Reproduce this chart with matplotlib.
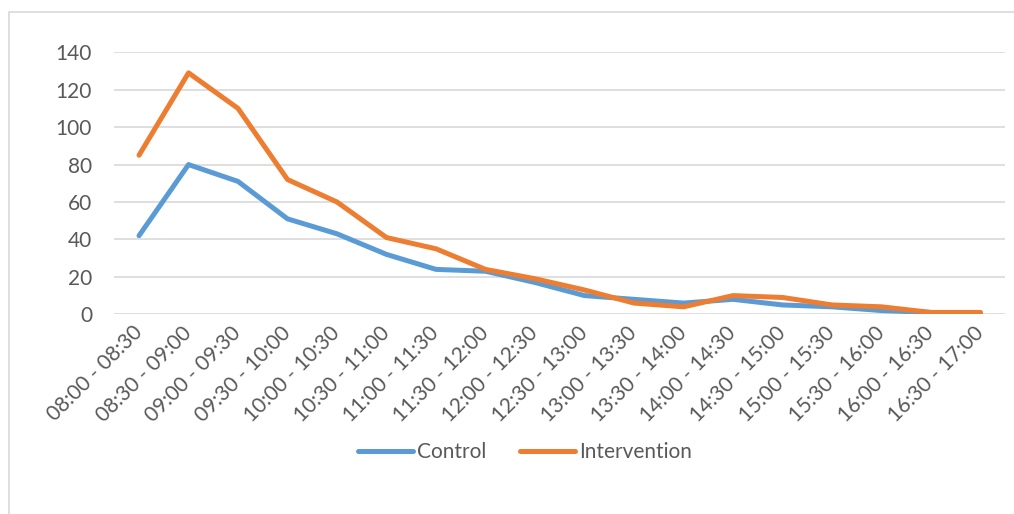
import matplotlib
matplotlib.use("Agg")
import matplotlib.pyplot as plt
from matplotlib.patches import Rectangle

# time slots
slots = ["08:00 - 08:30", "08:30 - 09:00", "09:00 - 09:30", "09:30 - 10:00",
         "10:00 - 10:30", "10:30 - 11:00", "11:00 - 11:30", "11:30 - 12:00",
         "12:00 - 12:30", "12:30 - 13:00", "13:00 - 13:30", "13:30 - 14:00",
         "14:00 - 14:30", "14:30 - 15:00", "15:00 - 15:30", "15:30 - 16:00",
         "16:00 - 16:30", "16:30 - 17:00"]
control = [42, 80, 71, 51, 43, 32, 24, 23, 17, 10, 8, 6, 8, 5, 4, 2, 1, 0]
intervention = [85, 129, 110, 72, 60, 41, 35, 24, 19, 13, 6, 4, 10, 9, 5, 4, 1, 1]
yticks = [0, 20, 40, 60, 80, 100, 120, 140]

plt.rcParams['font.family'] = ['Lato', 'DejaVu Sans']
txt = '#595959'
fs = 15

fig = plt.figure(figsize=(10.14, 5.14), dpi=100)
ax = fig.add_axes([0.1127, 0.3885, 0.8787, 0.5098])

x = range(len(slots))
ax.plot(x, control, color='#5B9BD5', lw=3.6, solid_capstyle='round', solid_joinstyle='round', label='Control')
ax.plot(x, intervention, color='#ED7D31', lw=3.6, solid_capstyle='round', solid_joinstyle='round', label='Intervention')

ax.set_xlim(-0.5, len(slots) - 0.5)
ax.set_ylim(0, 140)
ax.set_yticks(yticks)
ax.set_xticks(list(x))
ax.set_xticklabels(slots, rotation=45, ha='right', va='center', rotation_mode='anchor')
ax.tick_params(axis='both', length=0, labelsize=fs, colors=txt)
ax.tick_params(axis='x', pad=11)
ax.tick_params(axis='y', pad=16)
ax.grid(axis='y', color='#D9D9D9', lw=1.2)
ax.set_axisbelow(True)
for s in ax.spines.values():
    s.set_visible(False)

leg = fig.legend(loc='center', bbox_to_anchor=(0.518, 0.1206), ncol=2, frameon=False,
                 fontsize=fs, handlelength=2.65, handletextpad=0.2, columnspacing=1.6)
for t in leg.get_texts():
    t.set_color(txt)

# chart frame (right and bottom edges fall outside the image)
fig.patches.append(Rectangle((0.0084, -0.05), 1.1, 1.0267, transform=fig.transFigure,
                             fill=False, edgecolor='#D9D9D9', lw=1.2))

fig.savefig("out.png", dpi=100)
